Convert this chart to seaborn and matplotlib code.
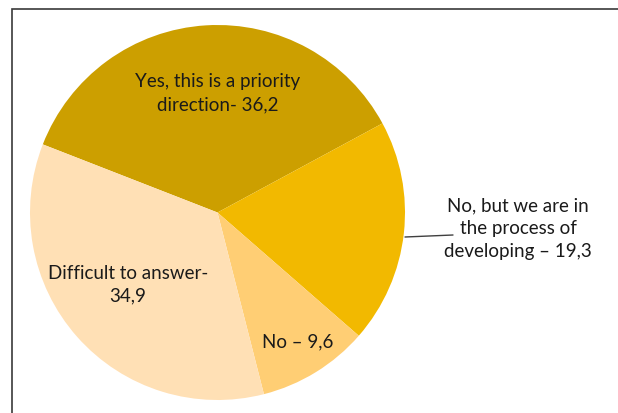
import matplotlib
matplotlib.use("Agg")
import matplotlib.pyplot as plt
import seaborn as sns
from matplotlib.patches import Rectangle

# данные
categories = ["Yes, this is a priority\ndirection- 36,2",
              "No, but we are in\nthe process of\ndeveloping \u2013 19,3",
              "No \u2013 9,6",
              "Difficult to answer-\n34,9"]
values = [36.2, 19.3, 9.6, 34.9]
colors = ["#CC9F00", "#F2B900", "#FFCE74", "#FFE0B5"]

sns.set_theme(style="white")
plt.rcParams['font.family'] = ['Lato', 'DejaVu Sans']

W, H = 618, 414
fig = plt.figure(figsize=(W / 100, H / 100), dpi=100)
# pie centre (217.5, 213.5) px, radius 187.5 px
cx, cy, r = 217.5, 213.5, 187.5
ax = fig.add_axes([(cx - r) / W, (H - cy - r) / H, 2 * r / W, 2 * r / H])

palette = sns.color_palette(colors)
ax.pie(values, colors=palette, startangle=158.7, counterclock=False,
       radius=1, wedgeprops=dict(linewidth=0))
ax.set_xlim(-1, 1)
ax.set_ylim(-1, 1)
ax.set_aspect('equal')
ax.axis('off')


def px(x, y):
    return ((x - cx) / r, (cy - y) / r)


txt = dict(ha='center', va='center', fontsize=13.5, color='#1a1a1a',
           linespacing=1.42, multialignment='center')
ax.text(*px(218, 93), categories[0], **txt)
ax.text(*px(128, 284.5), categories[3], **txt)
ax.text(*px(298, 342), categories[2], **txt)
ax.text(*px(518, 228.5), categories[1], clip_on=False, **txt)
x0, y0 = px(405, 238)
x1, y1 = px(453, 236)
ax.plot([x0, x1], [y0, y1], color='#404040', lw=1, clip_on=False)

# рамка
fig.add_artist(Rectangle((12 / W, -0.1), 1.2, (H - 10) / H + 0.1,
                         transform=fig.transFigure, fill=False,
                         edgecolor='#3a3a3a', lw=1.2))

fig.savefig("out.png", dpi=100)
